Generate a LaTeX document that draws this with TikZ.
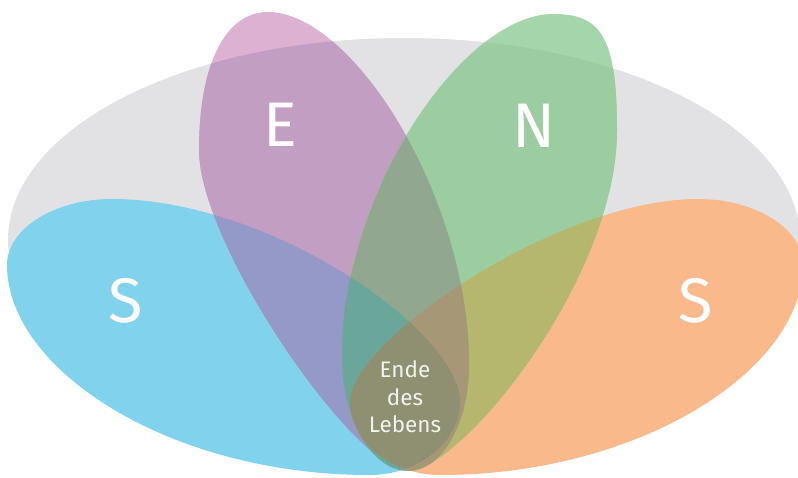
\documentclass[tikz,border=0pt]{standalone}
\usepackage{fontspec}
\setmainfont{Fira Sans}
\definecolor{cGray}{HTML}{E2E2E5}
\definecolor{cBlue}{HTML}{81D2EC}
\definecolor{cOrange}{HTML}{F9B98A}
\definecolor{cPurW}{HTML}{DCB1D1}
\definecolor{cPurG}{HTML}{C29FC2}
\definecolor{cGrnW}{HTML}{A5D6AB}
\definecolor{cGrnG}{HTML}{9CCDA0}
\definecolor{cPB}{HTML}{9499C7}
\definecolor{cPG}{HTML}{91A78F}
\definecolor{cGO}{HTML}{B5B76F}
\definecolor{cTeal}{HTML}{6AA79A}
\definecolor{cBrown}{HTML}{A69777}
\definecolor{cDrop}{HTML}{8F8F71}
\definecolor{cSmall}{HTML}{F2F2EE}
\begin{document}
\begin{tikzpicture}[x=1pt,y=-1pt,
  bigletter/.style={text=white,inner sep=0pt,font={\fontsize{63}{63}\selectfont}},
  smalltext/.style={text=cSmall,inner sep=0pt,align=center,font={\fontsize{22.5}{27.5}\selectfont}}]
\useasboundingbox (0,0) rectangle (798,477);
\clip (0,0) rectangle (798,477);
\fill[white] (0,0) rectangle (798,477);
\def\pGray{(404,240) circle[x radius=396,y radius=202]}
\def\pBlue{(7,265) .. controls (7,229) and (54,199) .. (112,199) .. controls (270,199) and (460,331) .. (460,402) .. controls (460,442) and (418,475) .. (370,475) .. controls (170,475) and (7,370) .. cycle}
\def\pOrange{(803,265) .. controls (803,229) and (756,199) .. (698,199) .. controls (558,199) and (350,341) .. (350,402) .. controls (350,442) and (392,475) .. (440,475) .. controls (640,475) and (803,370) .. cycle}
\def\pPurple{(268,12) .. controls (352,12) and (469,196) .. (469,365) .. controls (469,423) and (442,471) .. (408,471) .. controls (356,471) and (199,246) .. (199,150) .. controls (199,65) and (225,12) .. cycle}
\def\pGreen{(553,14) .. controls (600,14) and (617,35) .. (617,130) .. controls (617,280) and (460,471) .. (408,471) .. controls (372,471) and (342,419) .. (342,355) .. controls (342,191) and (464,14) .. cycle}
% base shapes
\fill[cGray] \pGray;
\fill[cBlue] \pBlue;
\fill[cOrange] \pOrange;
\fill[cPurW] \pPurple;
\begin{scope}\clip \pGray; \fill[cPurG] \pPurple;\end{scope}
\fill[cGrnW] \pGreen;
\begin{scope}\clip \pGray; \fill[cGrnG] \pGreen;\end{scope}
% pairwise overlaps
\begin{scope}\clip \pPurple; \fill[cPB] \pBlue;\end{scope}
\begin{scope}\clip \pPurple; \fill[cBrown] \pOrange;\end{scope}
\begin{scope}\clip \pGreen; \fill[cGO] \pOrange;\end{scope}
\begin{scope}\clip \pGreen; \fill[cTeal] \pBlue;\end{scope}
\begin{scope}\clip \pPurple; \fill[cPG] \pGreen;\end{scope}
% triple and quadruple overlaps
\begin{scope}\clip \pPurple; \clip \pGreen; \fill[cTeal] \pBlue;\end{scope}
\begin{scope}\clip \pPurple; \clip \pGreen; \fill[cBrown] \pOrange;\end{scope}
\begin{scope}\clip \pPurple; \clip \pGreen; \clip \pBlue; \fill[cDrop] \pOrange;\end{scope}
% labels
\node[bigletter] (E) at (280,125) {E};
\node[bigletter] (N) at (534,126) {N};
\node[bigletter] (S1) at (126,301) {S};
\node[bigletter] (S2) at (696,301) {S};
\node[smalltext] (end) at (405,397) {Ende\\des\\Lebens};
\end{tikzpicture}
\end{document}
